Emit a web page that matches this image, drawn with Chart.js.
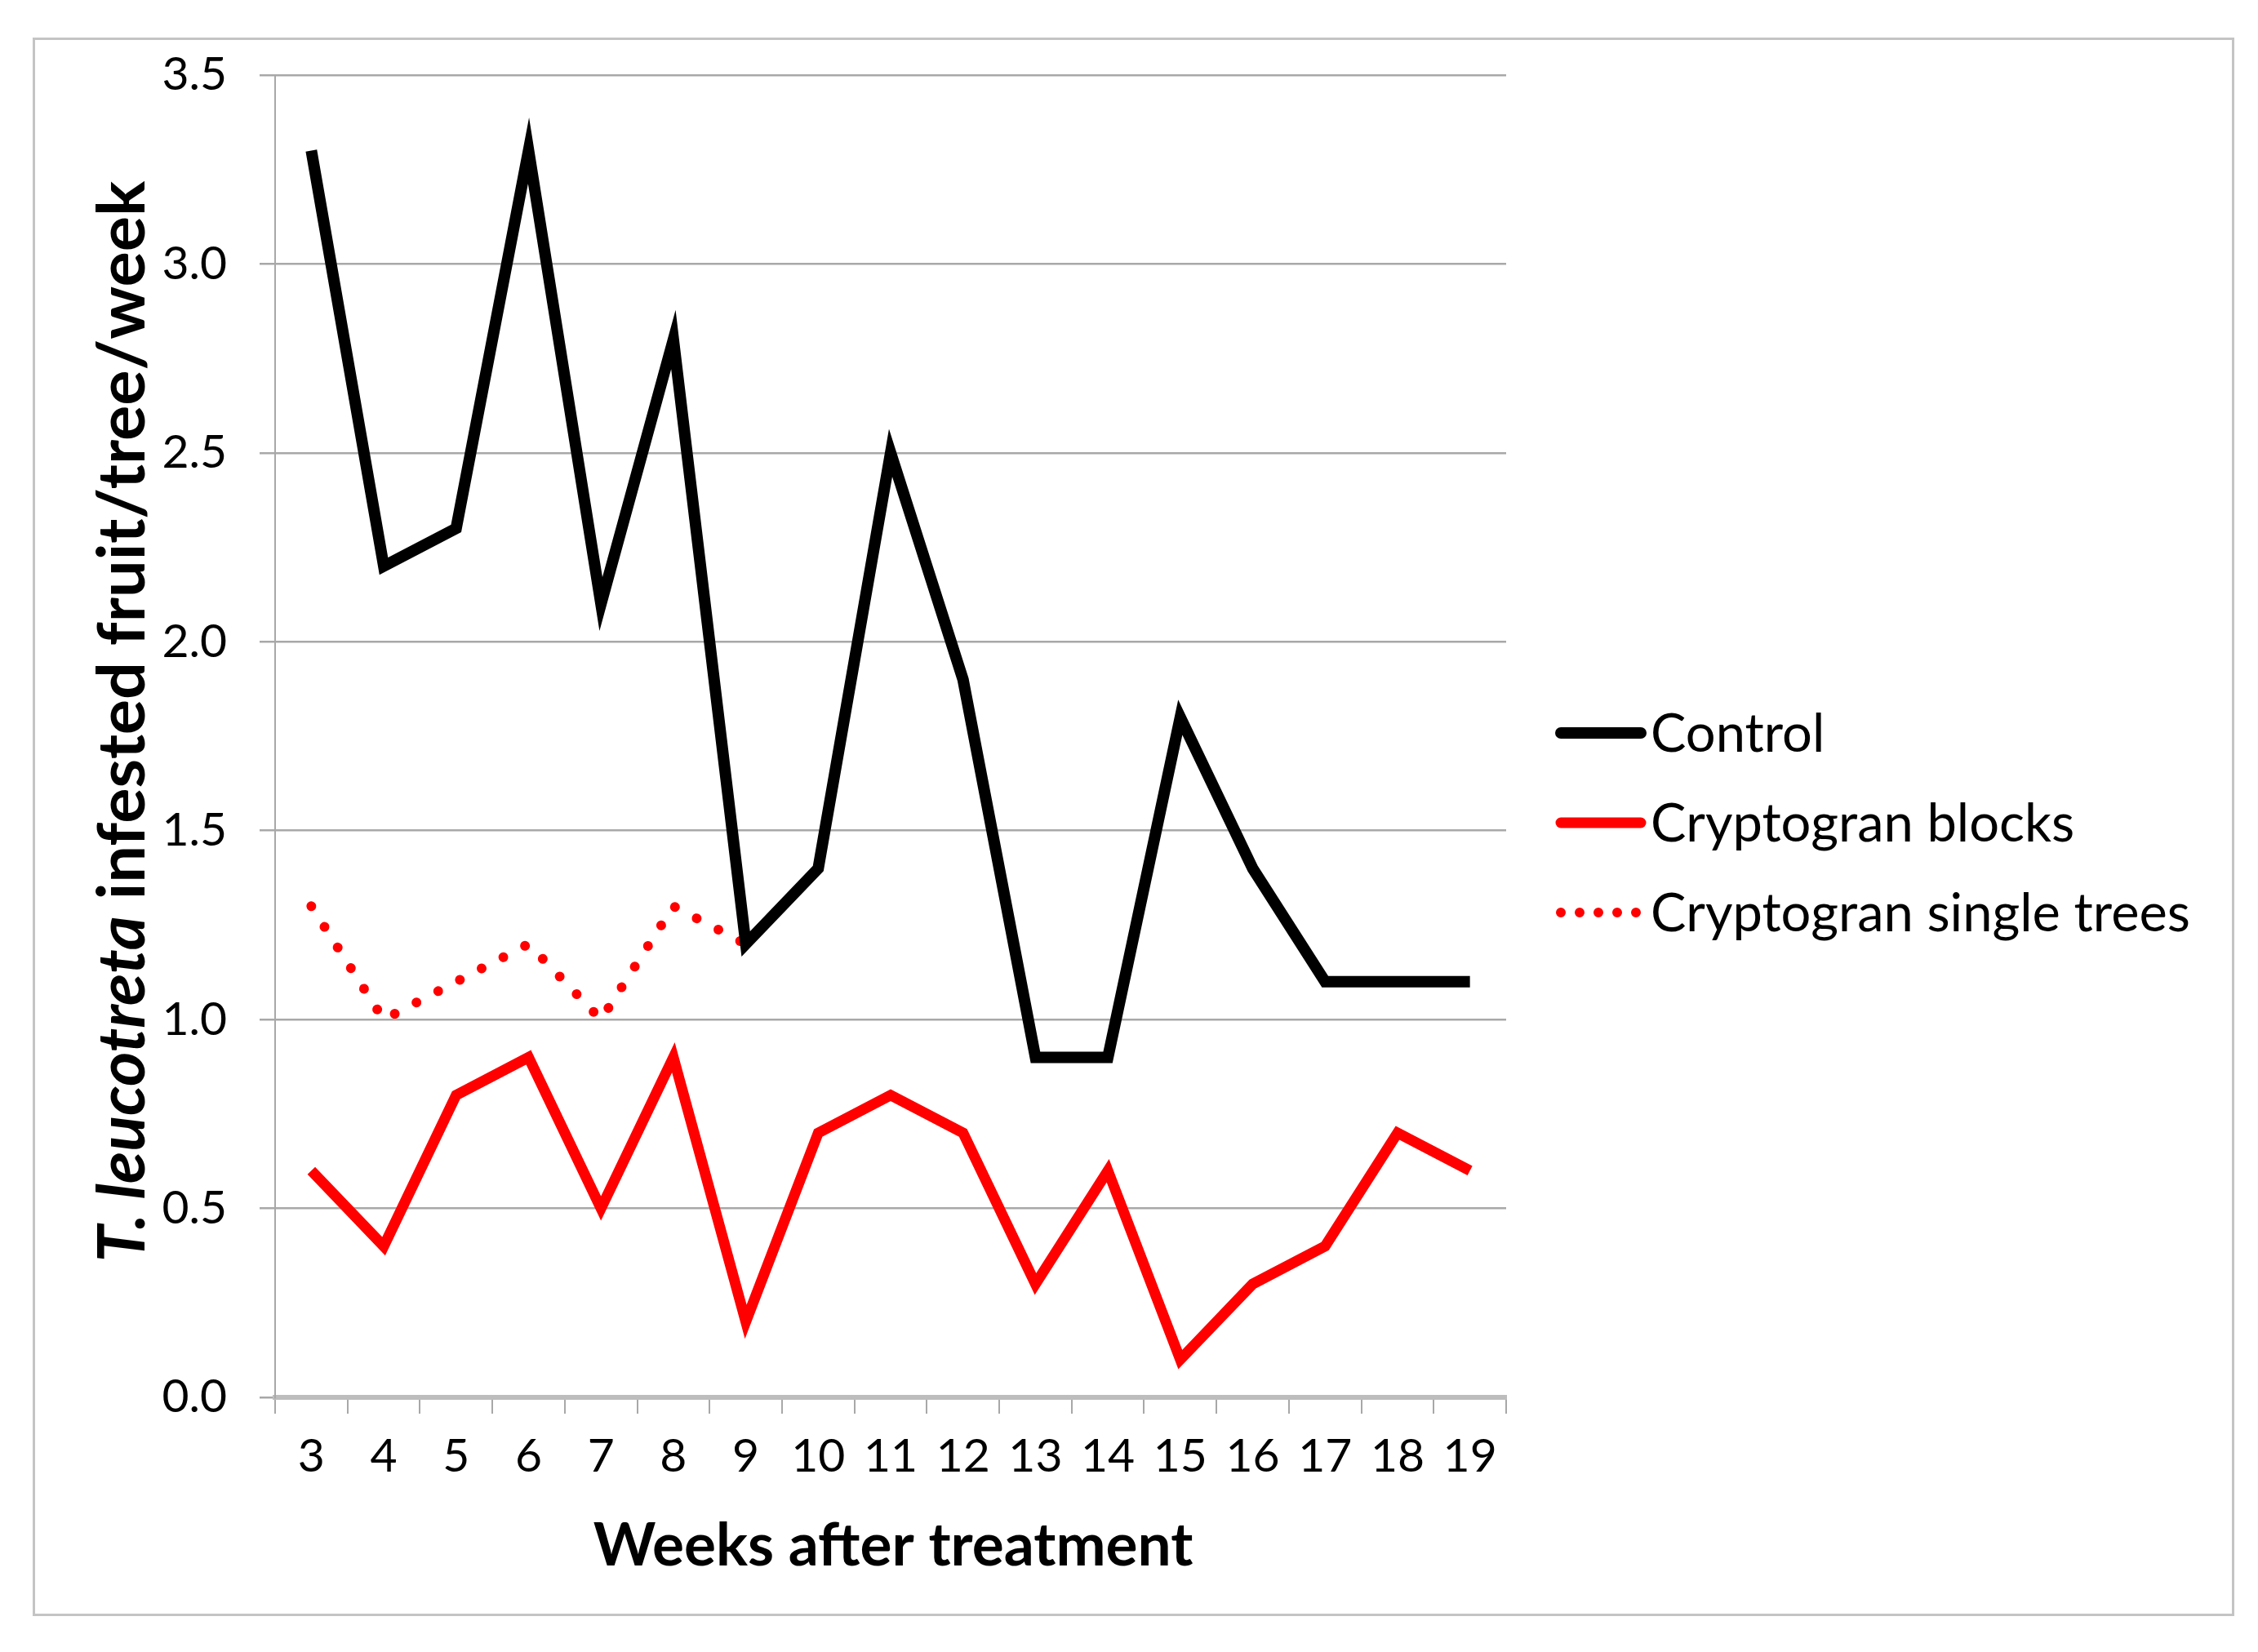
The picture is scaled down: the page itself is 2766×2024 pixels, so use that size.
<!DOCTYPE html>
<html>
<head>
<meta charset="utf-8">
<script src="https://cdn.jsdelivr.net/npm/chart.js@4/dist/chart.umd.min.js"></script>
<style>
  html, body { margin:0; padding:0; background:#fff; }
  #wrap { position:absolute; left:0; top:0; width:2766px; height:2024px; }
  #frame { position:absolute; left:40px; top:46px; width:2697px; height:1934px; border:3px solid #c4c4c4; box-sizing:border-box; }
  canvas { position:absolute; left:0; top:0; }
</style>
</head>
<body>
<div id="wrap">
  <div id="frame"></div>
  <canvas id="c" width="2766" height="2024"></canvas>
</div>
<script>
const weeks = ["3","4","5","6","7","8","9","10","11","12","13","14","15","16","17","18","19"];
const controlValues = [3.3, 2.2, 2.3, 3.3, 2.1, 2.8, 1.2, 1.4, 2.5, 1.9, 0.9, 0.9, 1.8, 1.4, 1.1, 1.1, 1.1];
const blocksValues  = [0.6, 0.4, 0.8, 0.9, 0.5, 0.9, 0.2, 0.7, 0.8, 0.7, 0.3, 0.6, 0.1, 0.3, 0.4, 0.7, 0.6];
const singleValues  = [1.3, 1.0, 1.1, 1.2, 1.0, 1.3, 1.2, null, null, null, null, null, null, null, null, null, null];
const seriesNames = ["Control", "Cryptogran blocks", "Cryptogran single trees"];
const yTicks = [0, 0.5, 1.0, 1.5, 2.0, 2.5, 3.0, 3.5];
const xTitle = "Weeks after treatment";
const yTitleItalic = "T. leucotreta";
const yTitleRest = " infested fruit/tree/week";

const FONT = "Lato, 'Open Sans', sans-serif";
const CHART_LEFT = 337, CHART_RIGHT = 1845, CHART_TOP = 92, CHART_BOTTOM = 1712;
const W = 2766, H = 2024;

const styles = [
  { color:'#000000', width:14, dash:[] },
  { color:'#ff0000', width:13, dash:[] },
  { color:'#ff0000', width:12, dash:[0.001, 30] }
];

const decorPlugin = {
  id:'decor',
  afterDraw(chart) {
    const ctx = chart.ctx;
    ctx.save();
    // y title
    ctx.fillStyle = '#000';
    ctx.textBaseline = 'middle';
    const ySize = 81;
    const fItal = `italic bold ${ySize}px ${FONT}`;
    const fBold = `bold ${ySize}px ${FONT}`;
    ctx.font = fItal; const w1 = ctx.measureText(yTitleItalic).width;
    ctx.font = fBold; const w2 = ctx.measureText(yTitleRest).width;
    const total = w1 + w2;
    ctx.translate(151, 884);
    ctx.rotate(-Math.PI/2);
    ctx.textAlign = 'left';
    ctx.font = fItal; ctx.fillText(yTitleItalic, -total/2, 0);
    ctx.font = fBold; ctx.fillText(yTitleRest, -total/2 + w1, 0);
    ctx.restore();

    // x title
    ctx.save();
    ctx.fillStyle = '#000';
    ctx.font = `bold 73px ${FONT}`;
    ctx.textAlign = 'center';
    ctx.textBaseline = 'middle';
    ctx.fillText(xTitle, 1094, 1894);
    ctx.restore();

    // legend
    const legY = [898, 1008, 1118];
    ctx.save();
    chart.data.datasets.forEach((ds, i) => {
      const y = legY[i];
      ctx.strokeStyle = ds.borderColor;
      ctx.lineWidth = ds.borderWidth;
      ctx.lineCap = 'round';
      ctx.setLineDash(ds.borderDash.length ? [0.001, 23] : []);
      ctx.beginPath();
      ctx.moveTo(1912, y);
      ctx.lineTo(2010, y);
      ctx.stroke();
      ctx.setLineDash([]);
      ctx.fillStyle = '#000';
      ctx.font = `65px ${FONT}`;
      ctx.textAlign = 'left';
      ctx.textBaseline = 'middle';
      ctx.fillText(ds.label, 2022, y + 2);
    });
    ctx.restore();
  }
};

const chart = new Chart(document.getElementById('c'), {
  type:'line',
  data:{
    labels: weeks,
    datasets: [controlValues, blocksValues, singleValues].map((vals, i) => ({
      label: seriesNames[i],
      data: vals,
      borderColor: styles[i].color,
      backgroundColor: styles[i].color,
      borderWidth: styles[i].width,
      borderDash: styles[i].dash,
      borderCapStyle: i === 2 ? 'round' : 'butt',
      borderJoinStyle: 'miter',
      pointRadius: 0,
      pointHoverRadius: 0,
      tension: 0,
      spanGaps: false,
      fill: false
    }))
  },
  options:{
    responsive:false,
    animation:false,
    devicePixelRatio:1,
    layout:{ padding:{ left:0, top:CHART_TOP, right: W - CHART_RIGHT, bottom:0 } },
    plugins:{ legend:{ display:false }, tooltip:{ enabled:false } },
    scales:{
      x:{
        type:'category',
        offset:true,
        grid:{ offset:true, drawOnChartArea:false, drawTicks:true, tickLength:20, color:'#a8a8a8', lineWidth:2 },
        border:{ display:true, color:'#bdbdbd', width:6 },
        ticks:{ color:'#000', font:{ family:FONT, size:57 }, padding:18, maxRotation:0, autoSkip:false },
        afterFit(scale){ scale.height = H - CHART_BOTTOM; }
      },
      y:{
        min:0, max:3.5,
        afterBuildTicks(scale){ scale.ticks = yTicks.map(v => ({ value:v })); },
        grid:{ color:'#a8a8a8', lineWidth:2.5, drawTicks:true, tickLength:19 },
        border:{ display:true, color:'#a8a8a8', width:2 },
        ticks:{ color:'#000', font:{ family:FONT, size:57 }, padding:40, callback:(v) => Number(v).toFixed(1) },
        afterFit(scale){ scale.width = CHART_LEFT; }
      }
    }
  },
  plugins:[decorPlugin]
});
</script>
</body>
</html>
